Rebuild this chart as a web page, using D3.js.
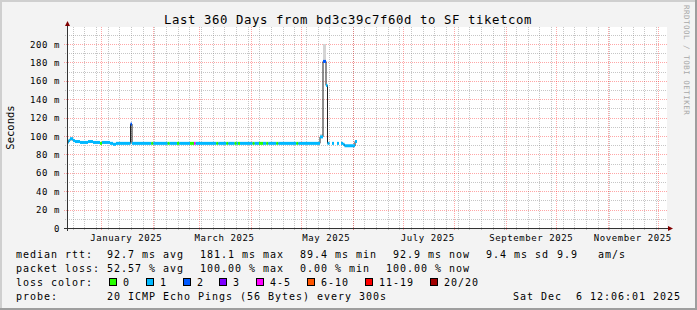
<!DOCTYPE html>
<html lang="en">
<head>
<meta charset="UTF-8">
<title>smokeping</title>
<style>
  body { margin: 0; background: #fff; }
  svg text { font-family: "DejaVu Sans Mono", monospace; white-space: pre; }
</style>
</head>
<body>
<svg width="697" height="310"></svg>
<script src="https://d3js.org/d3.v7.min.js"></script>
<script>
// graph span
var endTime = new Date(2025, 11, 6, 12, 6, 1);
var spanDays = 360;

// median steps: start (days after graph start), median rtt in ms, lost pings of 20
var segDay    = [0, 0.9, 1.8, 3.6, 4.8, 7.8, 12.6, 15.6, 19.8, 21, 25.8, 27.6, 29.4, 38.1, 39,
                 50.6, 51.8, 60.4, 61.6, 66, 67.4, 73.8, 76.2, 77.2, 89.6, 90.8, 95.6, 96.8,
                 100.6, 101.8, 102.6, 103.8, 111.4, 112.6, 115.2, 117.6, 119.6, 120.8, 125.6, 126.8,
                 137.6, 138.8, 151.8, 153.6, 155.4, 156.3, 157.5, 159, 160.2, 162, 163.2, 164.4,
                 165.6, 166.5, 172.8, 174];
var segMedian = [93, 95, 97, 95, 94, 93, 94, 93, 92, 93, 92, 91, 92, 113, 92,
                 92, 92, 92, 92, 92, 92, 92, 92, 92, 92, 92, 92, 92,
                 92, 92, 92, 92, 92, 92, 92, 92, 92, 92, 92, 92,
                 92, 92, 99, 181.1, 155, 92, null, 92, null, 92, null, 92,
                 91, 89.4, 94, null];
var segLoss   = [1, 1, 1, 1, 1, 1, 1, 1, 0, 1, 1, 1, 1, 2, 1,
                 0, 1, 0, 1, 0, 1, 0, 4, 1, 0, 1, 0, 1,
                 0, 1, 0, 1, 0, 1, 0, 1, 0, 1, 0, 1,
                 0, 1, 1, 2, 1, 1, 0, 1, 0, 1, 0, 1,
                 1, 1, 1, 0];

// smoke (spread of the 20 pings) where it shows above the median
var smokeFrom = [1.8, 151.8, 153.6];
var smokeTo   = [3.6, 153.6, 155.4];
var smokeLo   = [95, 99, 181];
var smokeHi   = [99, 102, 200];

var yTicks = [0, 20, 40, 60, 80, 100, 120, 140, 160, 180, 200];

var lossLabels = ["0", "1", "2", "3", "4-5", "6-10", "11-19", "20/20"];
var lossColors = ["#26ff00", "#00b8ff", "#0059ff", "#7e00ff", "#ff00ff", "#ff5500", "#ff0000", "#a10000"];

var rttStats  = ["92.7 ms avg", "181.1 ms max", "89.4 ms min", "92.9 ms now", "9.4 ms sd", "9.9", "am/s"];
var lossStats = ["52.57 % avg", "100.00 % max", "0.00 % min", "100.00 % now"];

var titleText = "Last 360 Days from bd3c39c7f60d to SF tiketcom";
var probeText = "20 ICMP Echo Pings (56 Bytes) every 300s";
var stampText = "Sat Dec  6 12:06:01 2025";

var svg = d3.select("svg"),
    W = 697, H = 310,
    pLeft = 67, pRight = 667, pTop = 27, pBottom = 228;

var startTime = d3.timeDay.offset(endTime, -spanDays);
var x = d3.scaleTime().domain([startTime, endTime]).range([pLeft, pRight]);
var y = d3.scaleLinear().domain([0, 218.5]).range([pBottom, pTop]);
var dayToDate = function(d) { return new Date(+startTime + d * 864e5); };

function lossBucket(n) {
    if (n <= 3) return n;
    if (n <= 5) return 4;
    if (n <= 10) return 5;
    if (n <= 19) return 6;
    return 7;
}

// frame
svg.append("rect").attr("width", W).attr("height", H).attr("fill", "#9e9e9e");
svg.append("rect").attr("width", W - 2).attr("height", H - 2).attr("fill", "#cfcfcf");
svg.append("rect").attr("x", 2).attr("y", 2).attr("width", W - 4).attr("height", H - 4).attr("fill", "#f3f3f3");
svg.append("rect").attr("x", pLeft).attr("y", pTop).attr("width", pRight - pLeft).attr("height", pBottom - pTop).attr("fill", "#fff");

var grid = svg.append("g");

// minor grid
var minorY = d3.range(10, 220, 10).filter(function(v) { return v % 20 !== 0; });
grid.selectAll(".hmin").data(minorY).enter().append("line")
    .attr("x1", pLeft - 2).attr("x2", pRight)
    .attr("y1", function(d) { return Math.round(y(d)) + 0.5; })
    .attr("y2", function(d) { return Math.round(y(d)) + 0.5; })
    .attr("stroke", "rgba(128,128,128,0.45)").attr("stroke-dasharray", "1,1");

var weeks = d3.timeSunday.range(startTime, endTime);
grid.selectAll(".vmin").data(weeks).enter().append("line")
    .attr("y1", pTop).attr("y2", pBottom + 2)
    .attr("x1", function(d) { return Math.round(x(d)) + 0.5; })
    .attr("x2", function(d) { return Math.round(x(d)) + 0.5; })
    .attr("stroke", "rgba(128,128,128,0.45)").attr("stroke-dasharray", "1,1");

// major grid
grid.selectAll(".hmaj").data(yTicks.slice(1)).enter().append("line")
    .attr("x1", pLeft - 3).attr("x2", pRight)
    .attr("y1", function(d) { return Math.round(y(d)) + 0.5; })
    .attr("y2", function(d) { return Math.round(y(d)) + 0.5; })
    .attr("stroke", "rgba(255,0,0,0.35)").attr("stroke-dasharray", "1,1");

var months = d3.timeMonth.range(startTime, endTime);
grid.selectAll(".vmaj").data(months).enter().append("line")
    .attr("y1", pTop).attr("y2", pBottom + 3)
    .attr("x1", function(d) { return Math.round(x(d)) + 0.5; })
    .attr("x2", function(d) { return Math.round(x(d)) + 0.5; })
    .attr("stroke", "rgba(255,0,0,0.35)").attr("stroke-dasharray", "1,1");

// smoke
var plot = svg.append("g");
plot.selectAll(".smoke").data(smokeFrom).enter().append("rect")
    .attr("x", function(d) { return x(dayToDate(d)); })
    .attr("width", function(d, i) { return x(dayToDate(smokeTo[i])) - x(dayToDate(d)); })
    .attr("y", function(d, i) { return y(smokeHi[i]); })
    .attr("height", function(d, i) { return y(smokeLo[i]) - y(smokeHi[i]); })
    .attr("fill", "#d4d4d4");

// median as a dark step line
var pts = segDay.map(function(d, i) { return { t: dayToDate(d), v: segMedian[i], loss: segLoss[i], i: i }; });
var line = d3.line()
    .defined(function(d) { return d.v !== null; })
    .x(function(d) { return x(d.t); })
    .y(function(d) { return y(d.v); })
    .curve(d3.curveStepAfter);
// close each run at the start of the following step
var linePts = [];
pts.forEach(function(p, i) {
    linePts.push(p);
    if (p.v !== null && i + 1 < pts.length && pts[i + 1].v === null) {
        linePts.push({ t: pts[i + 1].t, v: p.v });
    }
});
plot.append("path").attr("d", line(linePts))
    .attr("fill", "none").attr("stroke", "#202020").attr("stroke-width", 1);

// loss coloured median
plot.selectAll(".med").data(pts.slice(0, -1).filter(function(d) { return d.v !== null; }))
    .enter().append("rect")
    .attr("x", function(d) { return x(d.t); })
    .attr("width", function(d) { return Math.max(1, x(pts[d.i + 1].t) - x(d.t)); })
    .attr("y", function(d) { return y(d.v) - 1.5; })
    .attr("height", 3)
    .attr("fill", function(d) { return lossColors[lossBucket(d.loss)]; });

// axes
var axisColor = "#333";
svg.append("line").attr("x1", pLeft - 3).attr("x2", pRight + 4).attr("y1", pBottom + 0.5).attr("y2", pBottom + 0.5)
    .attr("stroke", axisColor);
svg.append("line").attr("x1", pLeft + 0.5).attr("x2", pLeft + 0.5).attr("y1", pBottom + 3).attr("y2", pTop - 3)
    .attr("stroke", axisColor);
svg.append("path").attr("d", "M" + (pLeft - 2) + "," + (pTop - 1) + "L" + (pLeft + 3) + "," + (pTop - 1) + "L" + (pLeft + 0.5) + "," + (pTop - 6) + "Z")
    .attr("fill", "#800000");
svg.append("path").attr("d", "M" + (pRight + 1) + "," + (pBottom - 2) + "L" + (pRight + 1) + "," + (pBottom + 3) + "L" + (pRight + 6) + "," + (pBottom + 0.5) + "Z")
    .attr("fill", "#800000");

// y tick labels
var axFont = { size: "9px", ls: "0.58px" };
svg.selectAll(".ylab").data(yTicks).enter().append("text")
    .attr("x", 60).attr("y", function(d) { return y(d) + 3.5; })
    .attr("text-anchor", "end")
    .style("font-size", axFont.size).style("letter-spacing", axFont.ls)
    .text(function(d) { return d === 0 ? "0" : d + " m"; });

// x labels, every second month, centred on mid-month
var labelMonths = d3.timeMonth.range(startTime, endTime).filter(function(m) { return m.getMonth() % 2 === 0; });
var fmt = d3.timeFormat("%B %Y");
svg.selectAll(".xlab").data(labelMonths).enter().append("text")
    .attr("x", function(d) { return x(d3.timeDay.offset(d, 15)); })
    .attr("y", 241)
    .attr("text-anchor", "middle")
    .style("font-size", axFont.size).style("letter-spacing", axFont.ls)
    .text(function(d) { return fmt(d); });

// y title
svg.append("text")
    .attr("transform", "translate(14," + ((pTop + pBottom) / 2) + ") rotate(-90)")
    .attr("text-anchor", "middle")
    .style("font-size", "10.5px")
    .text("Seconds");

// title
svg.append("text")
    .attr("x", 348).attr("y", 24)
    .attr("text-anchor", "middle")
    .style("font-size", "12.3px").style("letter-spacing", "0.6px")
    .text(titleText);

// watermark
svg.append("text")
    .attr("transform", "translate(684,5) rotate(90)")
    .style("font-size", "7.5px").style("letter-spacing", "0.5px")
    .attr("fill", "#a8a8a8")
    .text("RRDTOOL / TOBI OETIKER");

// legend
var leg = svg.append("g").style("font-size", "10px").style("letter-spacing", "0.98px");
var rowY = [257.5, 271.5, 285.5, 299.5];
leg.append("text").attr("x", 16).attr("y", rowY[0]).text("median rtt:");
var rttX = [107, 200, 300, 393, 486, 557, 598];
rttStats.forEach(function(s, i) { leg.append("text").attr("x", rttX[i]).attr("y", rowY[0]).text(s); });

leg.append("text").attr("x", 16).attr("y", rowY[1]).text("packet loss:");
var lossX = [107, 200, 300, 386];
lossStats.forEach(function(s, i) { leg.append("text").attr("x", lossX[i]).attr("y", rowY[1]).text(s); });

leg.append("text").attr("x", 16).attr("y", rowY[2]).text("loss color:");
var boxX = [109, 146, 183, 219, 256, 307, 365, 430];
lossLabels.forEach(function(s, i) {
    leg.append("rect").attr("x", boxX[i] + 0.5).attr("y", 278.5).attr("width", 7).attr("height", 7)
        .attr("fill", lossColors[i]).attr("stroke", "#000");
    leg.append("text").attr("x", boxX[i] + 14).attr("y", rowY[2]).text(s);
});

leg.append("text").attr("x", 16).attr("y", rowY[3]).text("probe:");
leg.append("text").attr("x", 107).attr("y", rowY[3]).text(probeText);
leg.append("text").attr("x", 513).attr("y", rowY[3]).text(stampText);
</script>
</body>
</html>
